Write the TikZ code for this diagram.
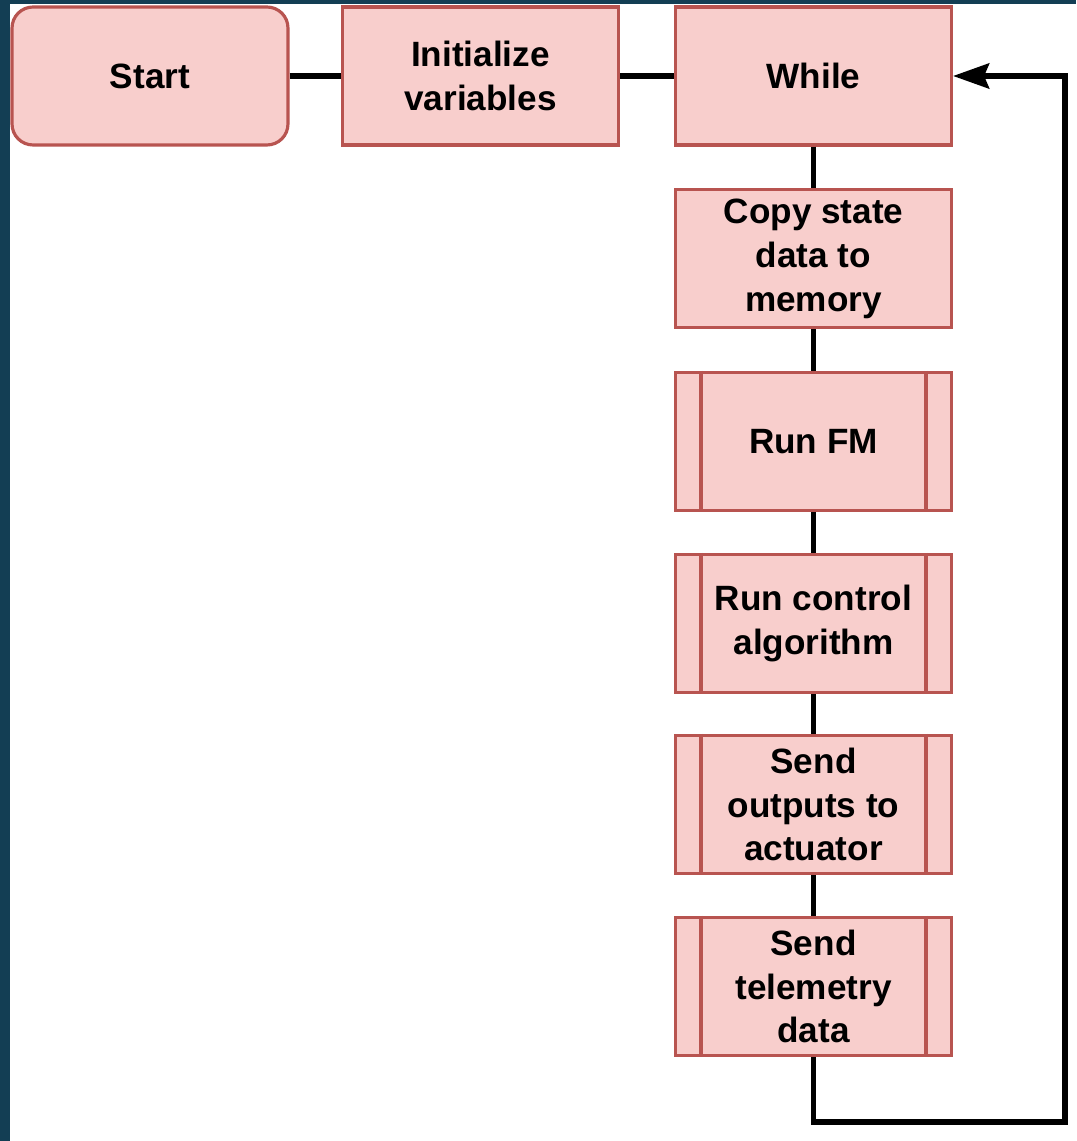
\documentclass[tikz,border=0pt]{standalone}
\usepackage{fontspec}
\setmainfont{Liberation Sans}
\usepackage{tikz}
\usetikzlibrary{arrows.meta, positioning, calc}

\definecolor{slideblue}{RGB}{19, 62, 84}
\definecolor{boxfill}{RGB}{248, 206, 204}
\definecolor{boxline}{RGB}{184, 84, 80}

\tikzset{
  stepbox/.style={draw=boxline, fill=boxfill, line width=1.8pt, minimum width=5.52cm, minimum height=2.76cm,
    align=center, inner sep=2pt, font=\bfseries\fontsize{20}{25}\selectfont},
  startbox/.style={stepbox, rounded corners=0.42cm},
  flow/.style={line width=3.2pt, black}
}

\begin{document}
\begin{tikzpicture}[x=0.02cm, y=-0.02cm]
  % Frame
  \fill[slideblue] (0,0) rectangle (1076,1141);
  \fill[white] (10,4) rectangle (1076,1141);
  \useasboundingbox (0,0) rectangle (1076,1141);

  % Top row
  \node[startbox] (start) at (150,76) {Start};
  \node[stepbox] (init) at (480.5,76) {Initialize\\variables};
  \node[stepbox] (while) at (813.5,76) {While};

  % Loop body
  \node[stepbox] (copy) at (813.5,258.5) {Copy state\\data to\\memory};
  \node[stepbox] (fm) at (813.5,441.5) {Run FM};
  \node[stepbox] (ctrl) at (813.5,623.5) {Run control\\algorithm};
  \node[stepbox] (outputs) at (813.5,804.5) {Send\\outputs to\\actuator};
  \node[stepbox] (tele) at (813.5,986.5) {Send\\telemetry\\data};

  % Sub-process bars
  \foreach \n in {fm, ctrl, outputs, tele} {
    \draw[boxline, line width=1.8pt] ([xshift=0.54cm]\n.north west) -- ([xshift=0.54cm]\n.south west);
    \draw[boxline, line width=1.8pt] ([xshift=-0.54cm]\n.north east) -- ([xshift=-0.54cm]\n.south east);
  }

  % Connectors
  \draw[flow] (start) -- (init);
  \draw[flow] (init) -- (while);
  \draw[flow] (while) -- (copy);
  \draw[flow] (copy) -- (fm);
  \draw[flow] (fm) -- (ctrl);
  \draw[flow] (ctrl) -- (outputs);
  \draw[flow] (outputs) -- (tele);

  % Back to the loop head
  \coordinate (loopcorner) at (1065,1122);
  \draw[flow, -{Stealth[length=0.72cm, width=0.5cm, inset=0.1cm]}] (tele.south) |- (loopcorner) |- (while.east);
\end{tikzpicture}
\end{document}
